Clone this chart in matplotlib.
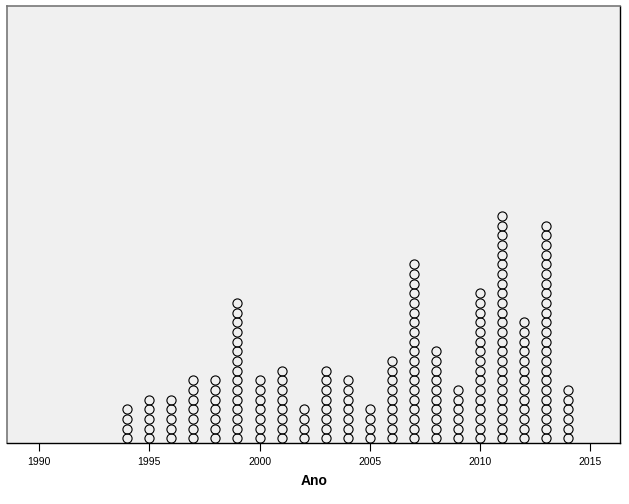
import matplotlib
matplotlib.use("Agg")
import matplotlib.pyplot as plt

years = [1994, 1995, 1996, 1997, 1998, 1999, 2000, 2001, 2002, 2003, 2004,
         2005, 2006, 2007, 2008, 2009, 2010, 2011, 2012, 2013, 2014]
counts = [4, 5, 5, 7, 7, 15, 7, 8, 4, 8, 7,
          4, 9, 19, 10, 6, 16, 24, 13, 23, 6]
xticks = [1990, 1995, 2000, 2005, 2010, 2015]
xlabel = "Ano"

plt.rcParams['font.family'] = ['Liberation Sans', 'DejaVu Sans']

W, H = 629, 504
fig = plt.figure(figsize=(W / 100, H / 100), dpi=100)
left, right, top, bottom = 7, 620.3, 6.3, 443
ax = fig.add_axes([left / W, (H - bottom) / H, (right - left) / W, (bottom - top) / H])
ax.set_facecolor('#f0f0f0')

xs, ys = [], []
for yr, c in zip(years, counts):
    for i in range(c):
        xs.append(yr)
        ys.append(i)
ax.plot(xs, ys, linestyle='none', marker='o', markersize=6.6,
        markerfacecolor='none', markeredgecolor='black', markeredgewidth=0.8)

x0 = 1990 - (39 - left) / 22.04
x1 = 2015 + (right - 590.3) / 22.04
ax.set_xlim(x0, x1)
spacing = 9.67
ylo = -(bottom - 438.3) / spacing
ax.set_ylim(ylo, ylo + (bottom - top) / spacing)

ax.set_xticks(xticks)
ax.set_xticklabels([str(t) for t in xticks], fontsize=7.5)
ax.tick_params(axis='x', direction='out', length=6, width=0.8, color='black', pad=4)
ax.set_yticks([])

for s in ['top', 'left']:
    ax.spines[s].set_color('#777777')
    ax.spines[s].set_linewidth(1.2)
for s in ['bottom', 'right']:
    ax.spines[s].set_color('black')
    ax.spines[s].set_linewidth(1.0)

fig.text(314 / W, 1 - 481 / H, xlabel, fontsize=10, fontweight='bold',
         ha='center', va='center')

fig.savefig('out.png', dpi=100)
